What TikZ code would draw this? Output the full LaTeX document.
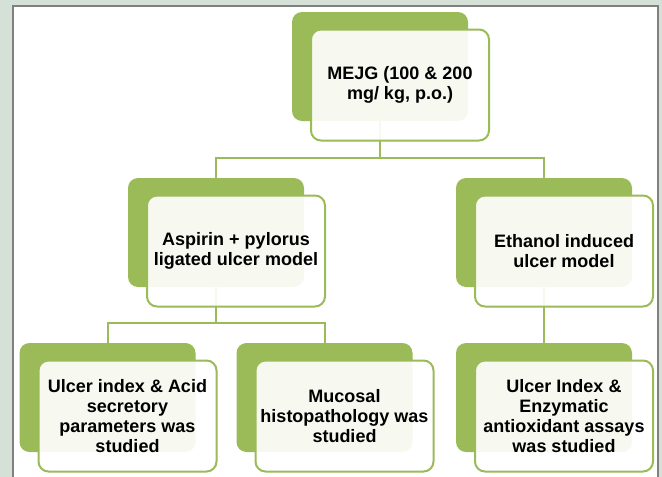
\documentclass[tikz,border=0pt]{standalone}
\usepackage{fontspec}
\setmainfont{Liberation Sans}
\definecolor{leaf}{HTML}{9BBB59}
\definecolor{mist}{HTML}{D5E1D6}
\definecolor{rim}{HTML}{808080}
\tikzset{
    back/.style={rectangle, rounded corners=10pt, fill=leaf, inner sep=0pt,
        minimum width=176pt, minimum height=109pt},
    front/.style={rectangle, rounded corners=10pt, draw=leaf, line width=2pt,
        fill=white, fill opacity=0.92, text opacity=1, inner sep=1pt,
        minimum width=178pt, minimum height=111pt, align=center,
        font=\bfseries\fontsize{18}{20}\selectfont, xshift=20pt, yshift=-18.5pt},
    link/.style={draw=leaf, line width=2pt}
}
\begin{document}
\begin{tikzpicture}[x=1pt, y=-1pt]
            \clip (0,0) rectangle (662,477);
            \fill[mist] (0,0) rectangle (662,477);
            \draw[rim, line width=1.5pt, fill=white] (13,6) rectangle (658,495);
            \node[back] (mejgbk) at (380,66.5) {};
            \node[back] (aspbk) at (216,232.5) {};
            \node[back] (ethbk) at (544,232.5) {};
            \node[back] (acidbk) at (107.5,397.5) {};
            \node[back] (mucbk) at (324.5,397.5) {};
            \node[back] (assaybk) at (544,397.5) {};
            \coordinate (bus1) at (380,158);
            \coordinate (bus2) at (216,323);
            \draw[link] (mejgbk.south) -- (bus1) -| (aspbk.north);
            \draw[link] (bus1) -| (ethbk.north);
            \draw[link] (aspbk.south) -- (bus2) -| (acidbk.north);
            \draw[link] (bus2) -| (mucbk.north);
            \draw[link] (ethbk.south) -- (assaybk.north);
            \node[front] (mejg) at (mejgbk) {MEJG (100 \& 200\\mg/ kg, p.o.)};
            \node[front] (asp) at (aspbk) {Aspirin + pylorus\\ligated ulcer model};
            \node[front] (eth) at (ethbk) {Ethanol induced\\ulcer model};
            \node[front] (acid) at (acidbk) {Ulcer index \& Acid\\secretory\\parameters was\\studied};
            \node[front] (muc) at (mucbk) {Mucosal\\histopathology was\\studied};
            \node[front] (assay) at (assaybk) {Ulcer Index \&\\Enzymatic\\antioxidant assays\\was studied};
        \end{tikzpicture}
\end{document}
